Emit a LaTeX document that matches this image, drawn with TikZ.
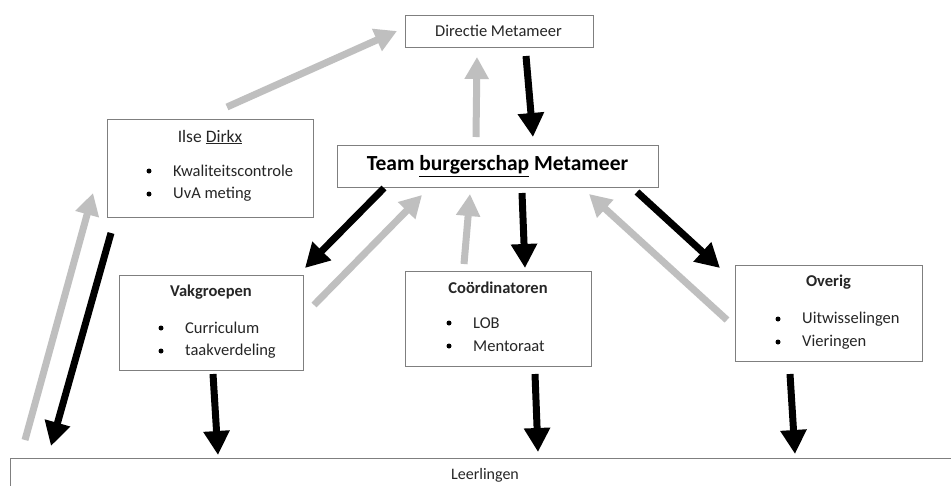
\documentclass[tikz,border=0pt]{standalone}
\usepackage{fontspec}
\setmainfont{Carlito}
\usetikzlibrary{arrows.meta}
\definecolor{arrgray}{HTML}{BFBFBF}
\definecolor{boxline}{HTML}{7F7F7F}
\definecolor{txtcol}{HTML}{262626}
\tikzset{
  box/.style={draw=boxline, line width=0.9pt, fill=white, rectangle, inner sep=0pt},
  txt/.style={inner sep=0pt, text=txtcol, font=\fontsize{16.5}{19}\selectfont},
  ttl/.style={txt, anchor=center},
  btl/.style={ttl, font=\fontsize{16.5}{19}\bfseries\selectfont},
  itm/.style={txt, anchor=west},
  dot/.style={circle, fill=black, inner sep=0pt, minimum size=5pt},
  blk/.style={line width=7pt, black, -{Triangle[length=24pt,width=25pt]}},
  gry/.style={line width=7pt, arrgray, -{Triangle[length=22pt,width=23pt]}},
}
\begin{document}
\begin{tikzpicture}[x=1pt,y=-1pt]
\clip (0,0) rectangle (951,485);
\fill[white] (0,0) rectangle (951,485);

% boxes
\node[box, minimum width=188pt, minimum height=32pt] (dir) at (499,31) {};
\node[ttl, font=\fontsize{16.5}{19}\selectfont] (dirt) at (498.5,31) {Directie Metameer};

\node[box, minimum width=321pt, minimum height=42pt] (team) at (497.5,166) {};
\node[ttl, text=black, font=\fontsize{21.5}{25}\bfseries\selectfont] (teamt) at (497.5,166) {Team \underline{burgerschap} Metameer};

\node[box, minimum width=206pt, minimum height=98pt] (ilse) at (210,168) {};
\node[ttl, font=\fontsize{17.5}{20}\selectfont] (ilset) at (210,137) {Ilse \underline{Dirkx}};
\node[dot] (ilseb1) at (149,171) {};
\node[itm] (ilsei1) at (173,171) {Kwaliteitscontrole};
\node[dot] (ilseb2) at (149,194) {};
\node[itm] (ilsei2) at (173,194) {UvA meting};

\node[box, minimum width=184pt, minimum height=95pt] (vak) at (211,322.5) {};
\node[btl] (vakt) at (211,292) {Vakgroepen};
\node[dot] (vakb1) at (161,328) {};
\node[itm] (vaki1) at (185,328) {Curriculum};
\node[dot] (vakb2) at (161,351) {};
\node[itm] (vaki2) at (185,351) {taakverdeling};

\node[box, minimum width=186pt, minimum height=95pt] (coo) at (498,318.5) {};
\node[btl] (coot) at (498,288) {Coördinatoren};
\node[dot] (coob1) at (449,323) {};
\node[itm] (cooi1) at (473,323) {LOB};
\node[dot] (coob2) at (449,346) {};
\node[itm] (cooi2) at (473,346) {Mentoraat};

\node[box, minimum width=187pt, minimum height=96pt] (ove) at (828.5,313.5) {};
\node[btl] (ovet) at (828.5,282) {Overig};
\node[dot] (oveb1) at (778,319) {};
\node[itm] (ovei1) at (802,319) {Uitwisselingen};
\node[dot] (oveb2) at (778,342) {};
\node[itm] (ovei2) at (802,342) {Vieringen};

\node[box, minimum width=960pt, minimum height=40pt, anchor=north west] (lee) at (10,458) {};
\node[ttl, font=\fontsize{16}{19}\selectfont] (leet) at (485,475) {Leerlingen};

% arrow end points
\coordinate (a1s) at (227,107);  \coordinate (a1e) at (397,31);
\coordinate (a2s) at (526,56);   \coordinate (a2e) at (533,137);
\coordinate (a3s) at (476,137);  \coordinate (a3e) at (477,57);
\coordinate (a4s) at (384,188);  \coordinate (a4e) at (305,268);
\coordinate (a5s) at (314,305);  \coordinate (a5e) at (422,195);
\coordinate (a6s) at (464,264);  \coordinate (a6e) at (470,194);
\coordinate (a7s) at (522,193);  \coordinate (a7e) at (525,268);
\coordinate (a8s) at (727,320);  \coordinate (a8e) at (589,194);
\coordinate (a9s) at (637,192);  \coordinate (a9e) at (720,268);
\coordinate (a10s) at (213,374); \coordinate (a10e) at (218,455);
\coordinate (a11s) at (535,374); \coordinate (a11e) at (538,452);
\coordinate (a12s) at (790,374); \coordinate (a12e) at (795,454);
\coordinate (a13s) at (111,233); \coordinate (a13e) at (51,446);
\coordinate (a14s) at (25,440);  \coordinate (a14e) at (93,193);

% arrows
\draw[gry] (a1s) -- (a1e);
\draw[blk] (a2s) -- (a2e);
\draw[gry] (a3s) -- (a3e);
\draw[blk] (a4s) -- (a4e);
\draw[gry] (a5s) -- (a5e);
\draw[gry] (a6s) -- (a6e);
\draw[blk] (a7s) -- (a7e);
\draw[gry] (a8s) -- (a8e);
\draw[blk] (a9s) -- (a9e);
\draw[blk] (a10s) -- (a10e);
\draw[blk] (a11s) -- (a11e);
\draw[blk] (a12s) -- (a12e);
\draw[blk] (a13s) -- (a13e);
\draw[gry] (a14s) -- (a14e);
\end{tikzpicture}
\end{document}
